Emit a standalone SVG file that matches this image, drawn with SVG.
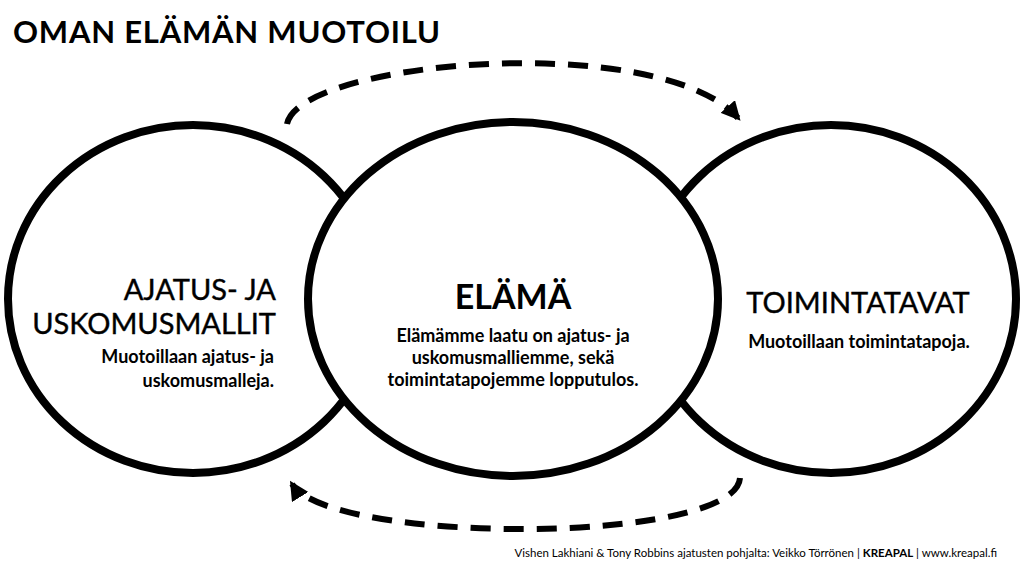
<svg xmlns="http://www.w3.org/2000/svg" width="1024" height="568" viewBox="0 0 1024 568">
<style>
.c{fill:#fff;stroke:#000;stroke-width:8}
.d{fill:none;stroke:#000;stroke-width:6;stroke-dasharray:20 13}
text{font-family:Lato,"Open Sans","Liberation Sans",sans-serif;fill:#000}
.h{font-size:29px;stroke:#000;stroke-width:0.4}
.s{font-size:18px;font-weight:bold}
</style>
<defs><marker id="ah" viewBox="0 0 10 10" refX="8" refY="5" markerWidth="3.2" markerHeight="3.2" orient="auto"><path d="M0,0L10,5L0,10z" fill="#000"/></marker></defs>
<text x="13" y="43" font-size="31" font-weight="bold" textLength="427">OMAN ELÄMÄN MUOTOILU</text>
<g id="connectors">
<path class="d" d="M287,124 C300,60 660,30 738,118" marker-end="url(#ah)"/>
<path class="d" d="M740,478 C735,545 330,545 292,484" marker-end="url(#ah)"/>
</g>
<g id="left"><ellipse class="c" cx="193" cy="299" rx="185" ry="174"/>
<text class="h" x="276" y="300" text-anchor="end">AJATUS- JA</text>
<text class="h" x="276" y="334" text-anchor="end">USKOMUSMALLIT</text>
<text class="s" x="274" y="363" text-anchor="end">Muotoillaan ajatus- ja</text>
<text class="s" x="274" y="387" text-anchor="end">uskomusmalleja.</text></g>
<g id="right"><ellipse class="c" cx="831" cy="299" rx="185" ry="174"/>
<text class="h" x="858" y="313" text-anchor="middle">TOIMINTATAVAT</text>
<text class="s" x="859" y="348" text-anchor="middle">Muotoillaan toimintatapoja.</text></g>
<g id="middle"><ellipse class="c" cx="513" cy="299" rx="205" ry="177"/>
<text x="513" y="309" text-anchor="middle" font-size="34" font-weight="bold">ELÄMÄ</text>
<text class="s" x="513" y="342" text-anchor="middle">Elämämme laatu on ajatus- ja</text>
<text class="s" x="513" y="364" text-anchor="middle">uskomusmalliemme, sekä</text>
<text class="s" x="513" y="386" text-anchor="middle">toimintatapojemme lopputulos.</text></g>
<text x="997" y="557" font-size="11.5" text-anchor="end">Vishen Lakhiani &amp; Tony Robbins ajatusten pohjalta: Veikko Törrönen | <tspan font-weight="bold">KREAPAL</tspan> | www.kreapal.fi</text>
</svg>
